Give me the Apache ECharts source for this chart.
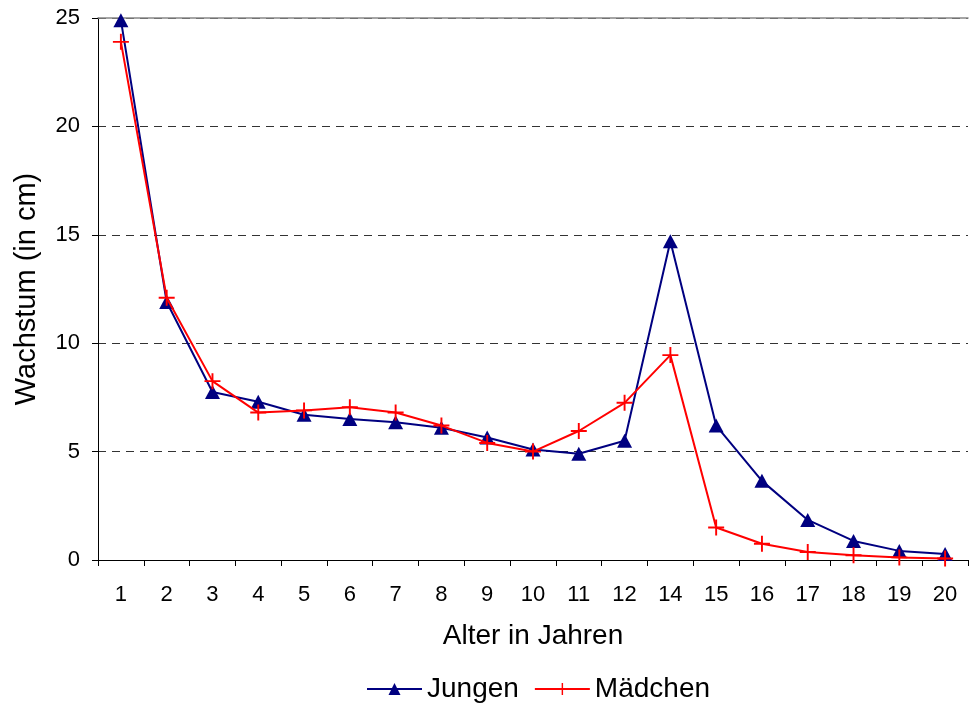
<!DOCTYPE html>
<html>
<head>
<meta charset="utf-8">
<script src="https://cdn.jsdelivr.net/npm/echarts@6/dist/echarts.min.js"></script>
<style>
  html, body { margin: 0; padding: 0; background: #fff; }
  #chart { width: 971px; height: 704px; }
</style>
</head>
<body>
<div id="chart"></div>
<script>
// Age categories (there is no 13)
const ages = ['1','2','3','4','5','6','7','8','9','10','11','12','14','15','16','17','18','19','20'];
// Yearly growth in cm
const jungen  = [24.9, 11.9, 7.75, 7.3, 6.7, 6.5, 6.35, 6.1, 5.65, 5.1, 4.9, 5.5, 14.7, 6.2, 3.65, 1.85, 0.88, 0.42, 0.28];
const maedchen = [23.9, 12.1, 8.25, 6.8, 6.9, 7.05, 6.8, 6.2, 5.4, 5.0, 5.95, 7.25, 9.45, 1.5, 0.75, 0.37, 0.22, 0.12, 0.07];
const yTicks = { min: 0, max: 25, step: 5 };

const font = 'Liberation Sans, Arial, sans-serif';
const plusPath = 'path://M4.4,0H5.6V4.4H10V5.6H5.6V10H4.4V5.6H0V4.4H4.4Z';

const chart = echarts.init(document.getElementById('chart'));
chart.setOption({
  animation: false,
  backgroundColor: '#fff',
  grid: { left: 98, right: 3, top: 18, bottom: 144, containLabel: false, outerBoundsMode: 'none' },
  legend: {
    top: 670,
    left: 361,
    itemWidth: 55,
    itemHeight: 15,
    itemGap: 15,
    textStyle: { fontFamily: font, fontSize: 28, color: '#000' },
    data: ['Jungen', 'Mädchen']
  },
  xAxis: [{
    type: 'category',
    data: ages,
    boundaryGap: true,
    name: 'Alter in Jahren',
    nameLocation: 'middle',
    nameGap: 62,
    nameTextStyle: { fontFamily: font, fontSize: 28, color: '#000' },
    axisLine: { lineStyle: { color: '#000', width: 1 } },
    axisTick: { show: true, interval: 0, length: 6, lineStyle: { color: '#000' } },
    axisLabel: { interval: 0, margin: 24, fontFamily: font, fontSize: 22, color: '#000' },
    splitLine: { show: false }
  }, {
    type: 'category',
    data: ages,
    position: 'top',
    axisLine: { lineStyle: { color: '#888', width: 1.5 } },
    axisTick: { show: false },
    axisLabel: { show: false }
  }],
  yAxis: {
    type: 'value',
    min: yTicks.min,
    max: yTicks.max,
    interval: yTicks.step,
    name: 'Wachstum (in cm)',
    nameLocation: 'middle',
    nameGap: 57,
    nameTextStyle: { fontFamily: font, fontSize: 29, color: '#000' },
    axisLine: { show: true, lineStyle: { color: '#000', width: 1 } },
    axisTick: { show: true, length: 6, lineStyle: { color: '#000' } },
    axisLabel: { margin: 18, fontFamily: font, fontSize: 22, color: '#000' },
    splitLine: { show: true, lineStyle: { color: '#333', type: [8, 6], width: 1 } }
  },
  series: [{
    name: 'Jungen',
    type: 'line',
    data: jungen,
    color: '#000080',
    lineStyle: { color: '#000080', width: 2 },
    itemStyle: { color: '#000080' },
    symbol: 'triangle',
    symbolSize: [15, 14],
    showAllSymbol: true,
    z: 3
  }, {
    name: 'Mädchen',
    type: 'line',
    data: maedchen,
    color: '#ff0000',
    lineStyle: { color: '#ff0000', width: 2 },
    itemStyle: { color: '#ff0000' },
    symbol: plusPath,
    symbolSize: 16,
    showAllSymbol: true,
    z: 4
  }]
});
</script>
</body>
</html>
